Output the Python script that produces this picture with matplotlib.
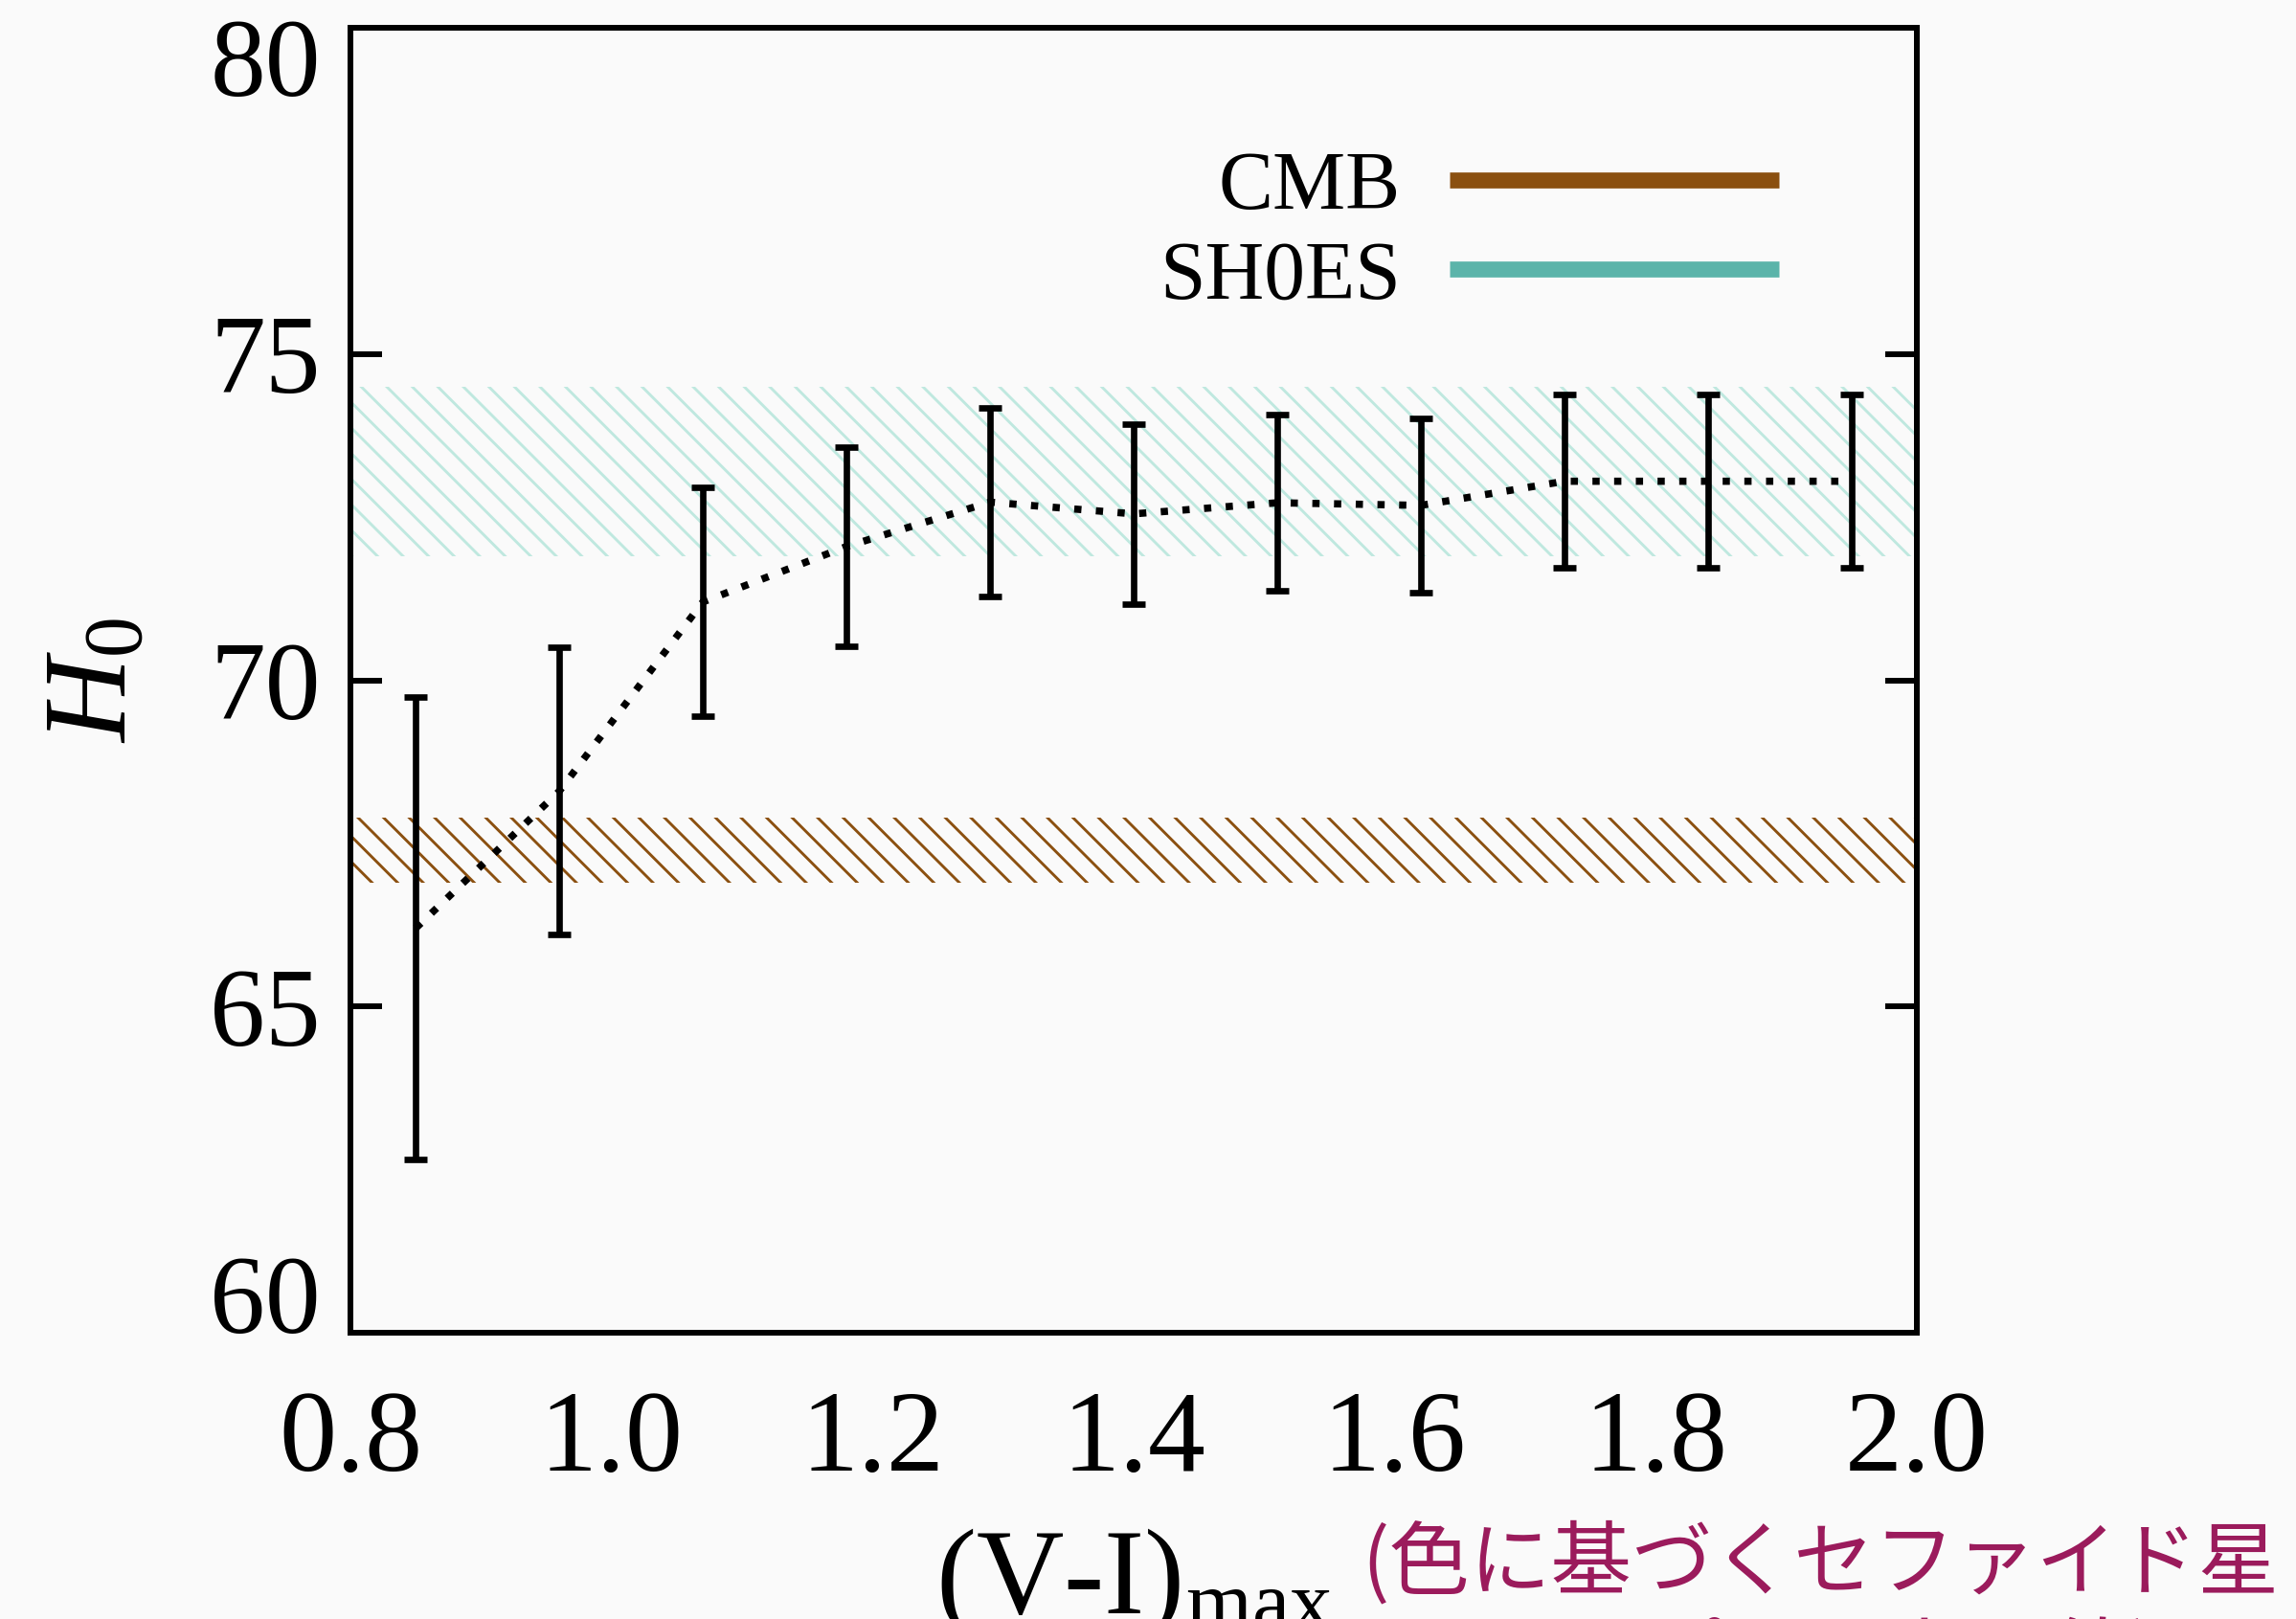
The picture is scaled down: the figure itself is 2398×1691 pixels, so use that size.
import matplotlib
matplotlib.use('Agg')
import matplotlib.pyplot as plt
from matplotlib.lines import Line2D
from matplotlib.transforms import ScaledTranslation

# data
vi_max = [0.85, 0.96, 1.07, 1.18, 1.29, 1.40, 1.51, 1.62, 1.73, 1.84, 1.95]
h0 = [66.2, 68.3, 71.2, 72.05, 72.73, 72.55, 72.72, 72.68, 73.05, 73.05, 73.05]
h0_err = [3.55, 2.2, 1.75, 1.53, 1.45, 1.38, 1.35, 1.34, 1.33, 1.33, 1.33]

cmb_h0, cmb_err = 67.4, 0.5
shoes_h0, shoes_err = 73.2, 1.3

xticks = [0.8, 1.0, 1.2, 1.4, 1.6, 1.8, 2.0]
xtick_labels = ['0.8', '1.0', '1.2', '1.4', '1.6', '1.8', '2.0']
yticks = [60, 65, 70, 75, 80]
legend_labels = ['CMB', 'SH0ES']

cmb_color = '#8b5010'
shoes_color = '#5bb4aa'
shoes_hatch = '#bfe8df'
bg = '#fafafa'

plt.rcParams['font.family'] = ['Liberation Serif', 'DejaVu Serif']
plt.rcParams['mathtext.fontset'] = 'custom'
plt.rcParams['mathtext.rm'] = 'Liberation Serif'
plt.rcParams['mathtext.it'] = 'Liberation Serif:italic'
plt.rcParams['hatch.linewidth'] = 1.3

W, H, DPI = 2398, 1691, 160
fig = plt.figure(figsize=(W / DPI, H / DPI), dpi=DPI, facecolor=bg)
ax = fig.add_axes([366 / W, 1 - 1392 / H, (2002 - 366) / W, (1392 - 29) / H])
ax.set_facecolor(bg)

# reference bands
ax.axhspan(cmb_h0 - cmb_err, cmb_h0 + cmb_err, facecolor='none', edgecolor=cmb_color,
           hatch='\\\\', linewidth=0, zorder=1)
ax.axhspan(shoes_h0 - shoes_err, shoes_h0 + shoes_err, facecolor='none', edgecolor=shoes_hatch,
           hatch='\\\\', linewidth=0, zorder=1)

ax.errorbar(vi_max, h0, yerr=h0_err, fmt='none', ecolor='black', elinewidth=3,
            capsize=5.4, capthick=3, zorder=3)
ax.plot(vi_max, h0, color='black', lw=3.4, linestyle=(0, (1, 2.0)),
        dash_capstyle='butt', zorder=4)

ax.set_xlim(0.8, 2.0)
ax.set_ylim(60, 80)
ax.set_xticks(xticks)
ax.set_xticklabels(xtick_labels)
ax.set_yticks(yticks)

for s in ax.spines.values():
    s.set_linewidth(2.7)

ax.tick_params(axis='y', direction='in', length=15, width=2.7, left=True, right=True,
               labelsize=52, pad=14)
ax.tick_params(axis='x', length=0, labelsize=54, pad=27)

# end labels sit inside the frame like in the original
yt = ax.yaxis.get_major_ticks()
yt[0].label1.set_va('baseline')
yt[-1].label1.set_va('top')
yt[-1].label1.set_transform(yt[-1].label1.get_transform()
                            + ScaledTranslation(0, 4.5 / 72, fig.dpi_scale_trans))

ax.set_ylabel('$H_0$', fontsize=55)
ax.yaxis.label.set_va('center')
ax.yaxis.set_label_coords(-0.161, 0.5)

ax.set_xlabel('(V-I)$_{\\mathrm{max}}$', fontsize=57)
ax.xaxis.label.set_va('baseline')
ax.xaxis.set_label_coords(0.5, (1392 - 1685) / (1392 - 29))

handles = [Line2D([], [], color=cmb_color, lw=7.5, solid_capstyle='butt'),
           Line2D([], [], color=shoes_color, lw=7.5, solid_capstyle='butt')]
ax.legend(handles, legend_labels, loc='upper right', bbox_to_anchor=(0.912, 0.906),
          frameon=False, markerfirst=False, handlelength=4.02, handletextpad=0.6,
          borderpad=0, borderaxespad=0, labelspacing=0.165, fontsize=38.5)

fig.text(1422 / W, 1 - 1590 / H, '(色に基づくセファイド星\nサンプルの上限値)',
         fontsize=38, color='#9b1b5c', family=['Noto Sans CJK JP', 'DejaVu Sans'],
         ha='left', va='top', multialignment='center', linespacing=1.2)

fig.savefig('out.png', dpi=DPI, facecolor=bg)
